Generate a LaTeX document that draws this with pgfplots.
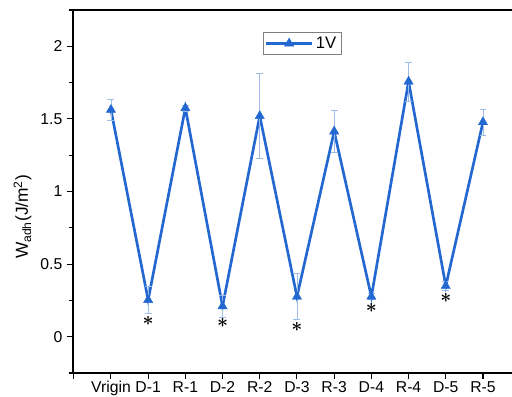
\documentclass[border=0pt]{standalone}
\usepackage{pgfplots}
\pgfplotsset{compat=1.18}
\usepackage{fontspec}
\setmainfont{Liberation Sans}
\definecolor{lineblue}{HTML}{2368D0}
\definecolor{errblue}{HTML}{9DBDE8}
\begin{document}
\begin{tikzpicture}
\useasboundingbox (-54.75pt,-18pt) rectangle (329.25pt,279.75pt);
\begin{axis}[
  at={(0,0)}, anchor=south west, scale only axis,
  width=329.25pt, height=272.25pt,
  xmin=-1.02, xmax=10.78, ymin=-0.25, ymax=2.25,
  axis line style={draw=none},
  clip=false,
  xtick={-1,0,...,10},
  xticklabels={,Vrigin,D-1,R-1,D-2,R-2,D-3,R-3,D-4,R-4,D-5,R-5},
  ytick={0,0.5,1,1.5,2},
  yticklabels={0,0.5,1,1.5,2},
  minor ytick={-0.25,0.25,0.75,1.25,1.75,2.25},
  tick align=outside, xtick pos=bottom, ytick pos=left,
  major tick length=4.5pt, minor tick length=3.2pt,
  tick style={black, line width=0.8pt},
  ticklabel style={font=\fontsize{11.8}{13}\selectfont},
  xticklabel style={inner ysep=1.5pt},
  ylabel={W\textsubscript{adh}(J/m\textsuperscript{2})},
  ylabel style={at={(axis description cs:-0.115,0.43)}, anchor=center, font=\fontsize{13}{14}\selectfont},
  legend style={at={(axis description cs:0.5216,0.908)}, anchor=center, draw=gray, line width=0.5pt,
    font=\fontsize{12.5}{14}\selectfont, inner sep=1.5pt},
  legend image code/.code={\draw[mark repeat=2,mark phase=2,#1] plot coordinates {(0cm,0cm) (0.6cm,0cm) (1.2cm,0cm)};},
]
\draw[line width=1pt] (rel axis cs:1,1) -- (rel axis cs:0,1) -- (rel axis cs:0,0) -- (rel axis cs:1,0);
\addplot[color=lineblue, line width=2pt, mark=triangle*, mark size=4pt,
  mark options={solid, line width=0.3pt, fill=lineblue},
  error bars/.cd, y dir=both, y explicit,
  error bar style={color=errblue, line width=0.6pt},
  error mark options={rotate=90, mark size=2.6pt, color=errblue, line width=0.6pt}]
  table[x=x, y=y, y error=e] {
x y e
0 1.563 0.07
1 0.253 0.09
2 1.575 0.02
3 0.21 0.075
4 1.52 0.295
5 0.276 0.16
6 1.414 0.145
7 0.276 0.02
8 1.757 0.135
9 0.35 0.03
10 1.478 0.09
};
\addlegendentry{1V}
\tikzset{star/.style={font=\fontsize{14}{14}\selectfont\boldmath, inner sep=0pt}}
\node[star] at (axis cs:1,0.11) {$\ast$};
\node[star] at (axis cs:3,0.097) {$\ast$};
\node[star] at (axis cs:5,0.07) {$\ast$};
\node[star] at (axis cs:7,0.2) {$\ast$};
\node[star] at (axis cs:9,0.27) {$\ast$};
\end{axis}
\end{tikzpicture}
\end{document}
